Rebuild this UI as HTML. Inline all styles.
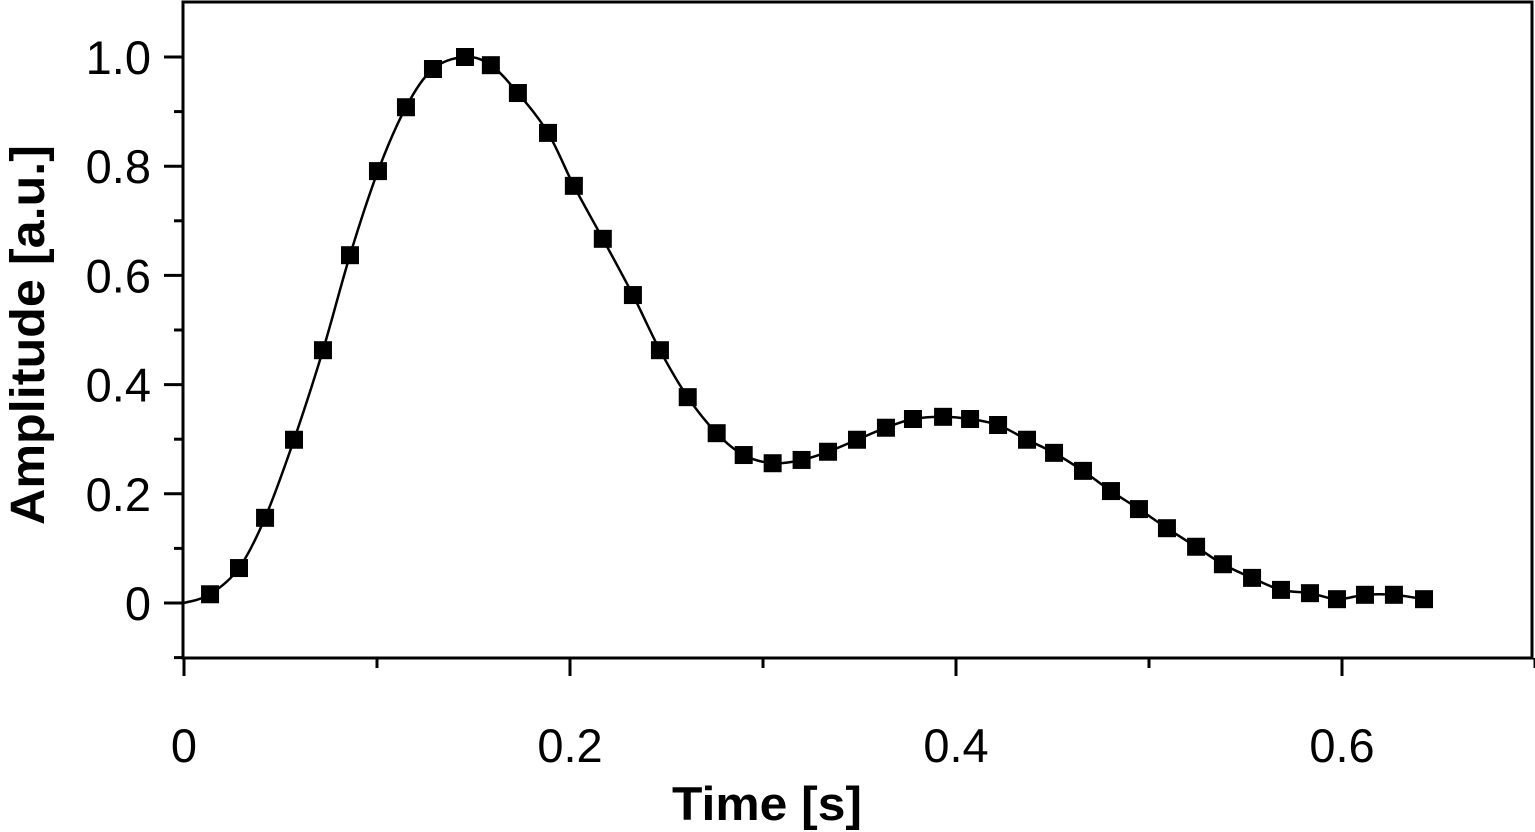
<!DOCTYPE html>
<html><head><meta charset="utf-8"><style>
html,body{margin:0;padding:0;background:#fff;}
svg{display:block;font-family:"Liberation Sans",sans-serif;}
</style></head><body>
<svg id="chart" width="1535" height="832" viewBox="0 0 1535 832" xmlns="http://www.w3.org/2000/svg"></svg>
<script>
const times=[0.0135,0.0285,0.042,0.057,0.072,0.086,0.1005,0.115,0.129,0.1456,0.159,0.173,0.1886,0.202,0.217,0.2326,0.2466,0.261,0.276,0.290,0.305,0.320,0.3337,0.3487,0.3637,0.3777,0.3933,0.4073,0.4218,0.4368,0.4508,0.4658,0.4803,0.4948,0.5093,0.5244,0.5383,0.5534,0.5684,0.5834,0.5974,0.6119,0.6269,0.6425];
const amps=[0.016,0.064,0.156,0.299,0.463,0.637,0.791,0.908,0.978,1.0,0.985,0.934,0.861,0.764,0.667,0.564,0.463,0.377,0.311,0.271,0.256,0.262,0.277,0.299,0.321,0.337,0.341,0.337,0.326,0.299,0.275,0.242,0.205,0.172,0.137,0.103,0.071,0.046,0.024,0.018,0.007,0.015,0.015,0.007];
const xTicks=[0,0.2,0.4,0.6];
const xTickLabels=["0","0.2","0.4","0.6"];
const xMinor=[0.1,0.3,0.5,0.7];
const yTicks=[0,0.2,0.4,0.6,0.8,1.0];
const yTickLabels=["0","0.2","0.4","0.6","0.8","1.0"];
const yMinor=[-0.1,0.1,0.3,0.5,0.7,0.9];

const NS="http://www.w3.org/2000/svg";
const svg=document.getElementById('chart');
const X0=184,XS=1930,Y0=603,YS=546;
const sx=v=>X0+v*XS, sy=v=>Y0-v*YS;
function mk(tag,attrs,parent){const e=document.createElementNS(NS,tag);for(const k in attrs)e.setAttribute(k,attrs[k]);(parent||svg).appendChild(e);return e;}

const frame=mk('rect',{x:183,y:2,width:1349,height:656,fill:'none',stroke:'#000','stroke-width':3});



xTicks.forEach((t,i)=>{
  const l=mk('line',{x1:sx(t),x2:sx(t),y1:658,y2:676,stroke:'#000','stroke-width':3});
  
  
  const tx=mk('text',{x:sx(t),y:762,'font-size':47,'text-anchor':'middle',fill:'#000'});
  tx.textContent=xTickLabels[i];
  
  
});
xMinor.forEach(t=>{
  const l=mk('line',{x1:sx(t),x2:sx(t),y1:658,y2:668,stroke:'#000','stroke-width':3});
  
  
});
yTicks.forEach((t,i)=>{
  const l=mk('line',{x1:164,x2:183,y1:sy(t),y2:sy(t),stroke:'#000','stroke-width':3});
  
  
  const tx=mk('text',{x:151,y:sy(t)+17,'font-size':47,'text-anchor':'end',fill:'#000'});
  tx.textContent=yTickLabels[i];
  
  
});
yMinor.forEach(t=>{
  const l=mk('line',{x1:174,x2:183,y1:sy(t),y2:sy(t),stroke:'#000','stroke-width':3});
  
  
});

const pts=[[sx(0),sy(0)]].concat(times.map((t,i)=>[sx(t),sy(amps[i])]));
let d=`M${pts[0][0]},${pts[0][1]}`;
for(let i=0;i<pts.length-1;i++){
  const p0=pts[Math.max(0,i-1)],p1=pts[i],p2=pts[i+1],p3=pts[Math.min(pts.length-1,i+2)];
  const c1=[p1[0]+(p2[0]-p0[0])/6,p1[1]+(p2[1]-p0[1])/6];
  const c2=[p2[0]-(p3[0]-p1[0])/6,p2[1]-(p3[1]-p1[1])/6];
  d+=` C${c1[0]},${c1[1]} ${c2[0]},${c2[1]} ${p2[0]},${p2[1]}`;
}
const line=mk('path',{d:d,fill:'none',stroke:'#000','stroke-width':2.5});



times.forEach((t,i)=>{
  const r=mk('rect',{x:sx(t)-9,y:sy(amps[i])-9,width:18,height:18,fill:'#000'});
  
  
});

const xt=mk('text',{x:767,y:820,'font-size':47,'font-weight':'bold','text-anchor':'middle',fill:'#000',textLength:190,lengthAdjust:'spacingAndGlyphs'});
xt.textContent='Time [s]';


const yt=mk('text',{x:0,y:0,'font-size':48,'font-weight':'bold','text-anchor':'middle',fill:'#000',textLength:380,lengthAdjust:'spacingAndGlyphs',transform:'translate(44,335) rotate(-90)'});
yt.textContent='Amplitude [a.u.]';


</script>
</body></html>
